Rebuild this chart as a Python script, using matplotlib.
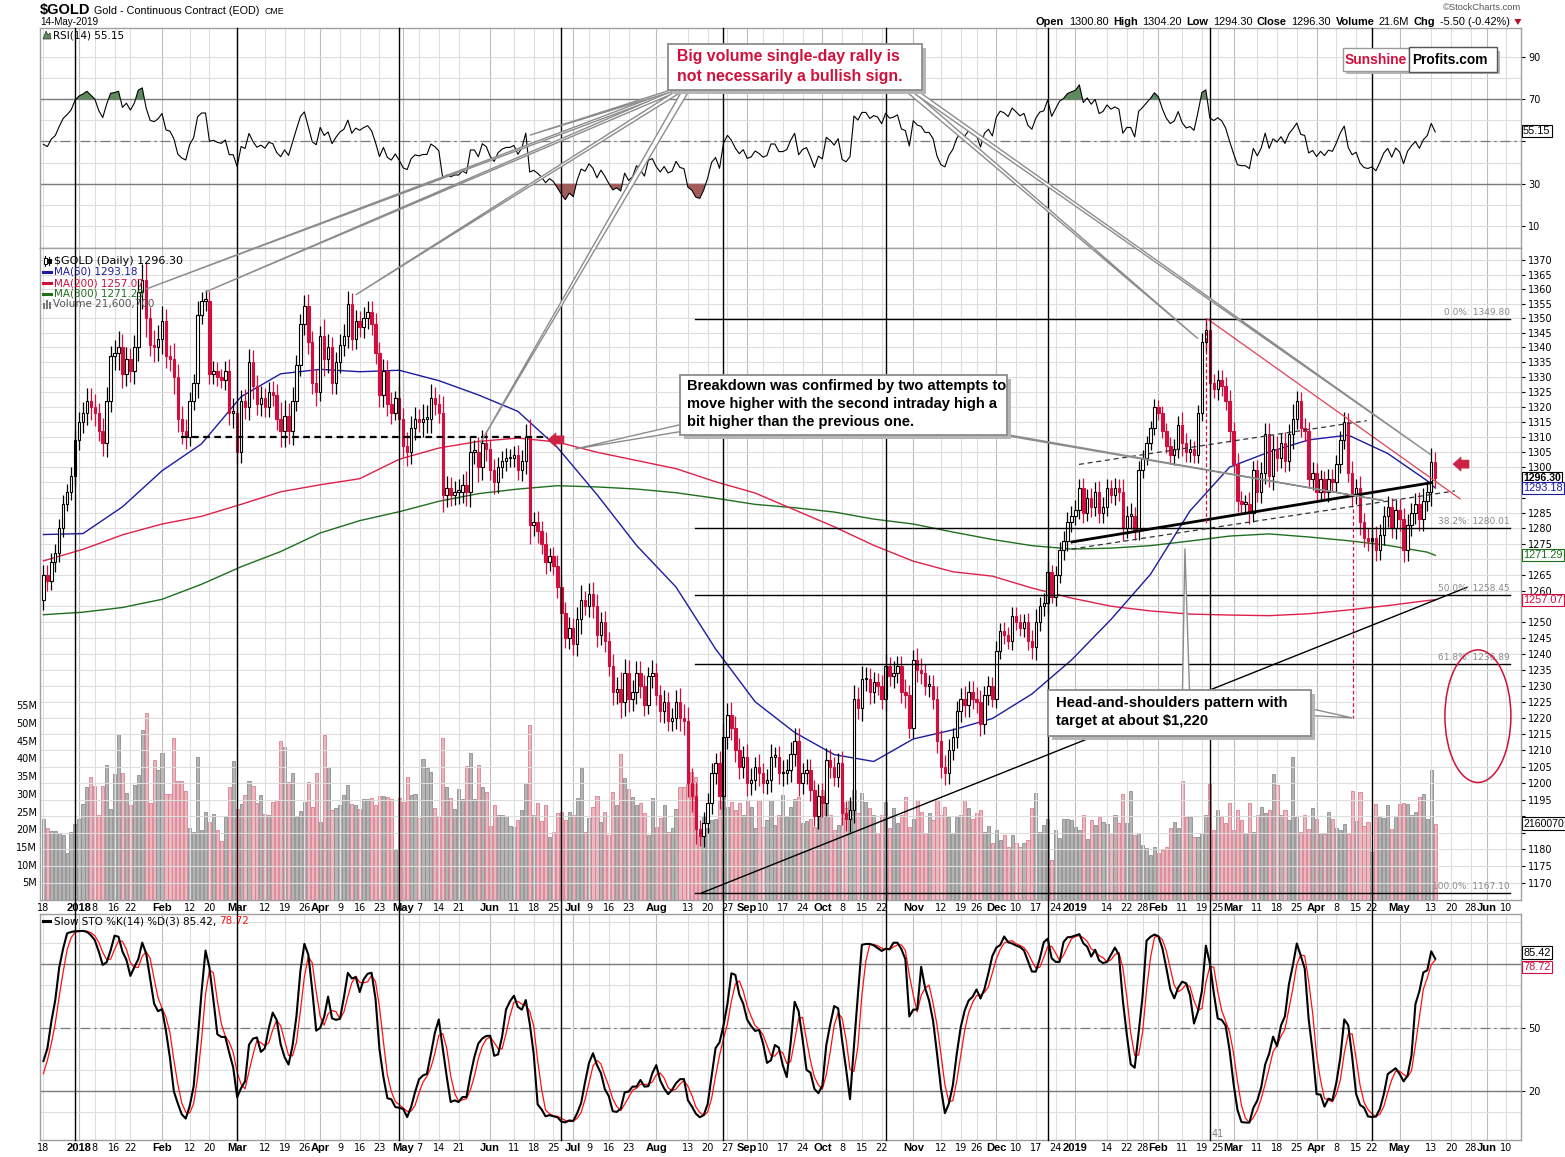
import numpy as np
import pandas as pd
import matplotlib
matplotlib.use("Agg")
import matplotlib.pyplot as plt
from matplotlib import font_manager
from matplotlib.patches import Rectangle, Polygon, Ellipse
from matplotlib.ticker import FixedLocator, NullLocator, FixedFormatter

W, H = 1565, 1157
plt.rcParams['font.family'] = ['DejaVu Sans']
try:
    font_manager.findfont('Liberation Sans Narrow', fallback_to_default=False)
    NARROW, NS = 'Liberation Sans Narrow', 1.0
except ValueError:
    NARROW, NS = 'Liberation Sans', 0.84

# ---------------- data ----------------
holidays = ['2017-12-25', '2018-01-01', '2018-01-15', '2018-02-19', '2018-03-30',
            '2018-05-28', '2018-07-04', '2018-09-03', '2018-11-22', '2018-12-25',
            '2019-01-01', '2019-01-21', '2019-02-18', '2019-04-19', '2019-05-27']

# closes before the visible range, only used to warm up RSI / STO
close_warmup = [1278, 1294, 1275, 1280, 1292, 1288, 1295, 1294, 1286, 1275, 1280,
                1277, 1266, 1266, 1253, 1248, 1247, 1243, 1257, 1257, 1257]

close_2017_12 = [1265, 1263, 1269, 1272, 1280, 1288, 1292, 1297, 1309]
close_2018_01 = [1315, 1318, 1322, 1320, 1318, 1312, 1308, 1322, 1337, 1338, 1340,
                 1331, 1336, 1332, 1340, 1359, 1363, 1350, 1341, 1340, 1343]
close_2018_02 = [1349, 1337, 1336, 1330, 1316, 1312, 1310, 1322, 1328, 1351, 1356,
                 1356, 1331, 1332, 1330, 1329, 1332, 1318, 1318]
close_2018_03 = [1305, 1322, 1320, 1335, 1327, 1321, 1323, 1320, 1325, 1324, 1316,
                 1312, 1317, 1312, 1322, 1334, 1348, 1354, 1342, 1328, 1325]
close_2018_04 = [1344, 1336, 1340, 1328, 1335, 1341, 1344, 1355, 1343, 1349, 1347,
                 1350, 1352, 1348, 1338, 1324, 1332, 1321, 1318, 1323, 1316]
close_2018_05 = [1307, 1305, 1313, 1316, 1315, 1316, 1316, 1323, 1321, 1318, 1291,
                 1293, 1291, 1292, 1292, 1294, 1292, 1305, 1305, 1300, 1308, 1306]
close_2018_06 = [1299, 1295, 1300, 1302, 1303, 1303, 1304, 1299, 1302, 1310, 1281,
                 1282, 1279, 1275, 1269, 1271, 1268, 1261, 1253, 1245, 1248]
close_2018_07 = [1243, 1251, 1257, 1255, 1259, 1255, 1246, 1250, 1244, 1236, 1228,
                 1229, 1225, 1234, 1226, 1228, 1234, 1230, 1224, 1233, 1234]
close_2018_08 = [1227, 1222, 1225, 1219, 1220, 1225, 1220, 1219, 1200, 1196, 1186,
                 1184, 1188, 1194, 1203, 1206, 1196, 1214, 1221, 1217, 1210, 1205, 1208]
close_2018_09 = [1200, 1201, 1205, 1203, 1200, 1201, 1208, 1208, 1203, 1203, 1204,
                 1209, 1213, 1200, 1203, 1204, 1198, 1190, 1196]
close_2018_10 = [1194, 1207, 1205, 1202, 1206, 1191, 1189, 1192, 1226, 1223, 1232,
                 1232, 1228, 1231, 1230, 1226, 1236, 1233, 1234, 1236, 1228, 1227, 1217]
close_2018_11 = [1238, 1235, 1234, 1230, 1230, 1226, 1213, 1205, 1203, 1210, 1214,
                 1222, 1226, 1224, 1228, 1226, 1225, 1218, 1227, 1230, 1226]
close_2018_12 = [1241, 1247, 1246, 1244, 1252, 1250, 1248, 1250, 1244, 1242, 1250,
                 1255, 1256, 1266, 1258, 1265, 1273, 1276, 1282, 1284]
close_2019_01 = [1286, 1293, 1285, 1290, 1287, 1292, 1285, 1287, 1293, 1291, 1293,
                 1292, 1280, 1284, 1284, 1279, 1299, 1303, 1308, 1313, 1320]
close_2019_02 = [1318, 1312, 1307, 1304, 1306, 1314, 1308, 1305, 1306, 1304, 1318,
                 1342, 1346, 1328, 1326, 1329, 1327, 1322, 1312]
close_2019_03 = [1301, 1289, 1288, 1288, 1285, 1299, 1292, 1298, 1311, 1297, 1306,
                 1303, 1308, 1302, 1311, 1316, 1322, 1313, 1312, 1296, 1298]
close_2019_04 = [1292, 1296, 1292, 1296, 1295, 1301, 1309, 1315, 1298, 1291, 1293,
                 1282, 1277, 1276, 1277, 1273, 1278, 1284, 1287, 1280, 1286]
close_2019_05 = [1283, 1273, 1281, 1285, 1288, 1283, 1289, 1292, 1301.8, 1296.3]

# volume, millions of contracts
vol_2017_12 = [23, 20.4, 19.6, 19.6, 18.8, 18.4, 13.2, 19.3, 21.5]
vol_2018_01 = [22.8, 27, 31.8, 34.8, 32.2, 23.9, 32.2, 38, 25.7, 35.6, 47, 35.8, 30.3,
               26.7, 32.4, 35.2, 48, 52.7, 27.5, 39.5, 36.6]
vol_2018_02 = [41.5, 30, 30, 45.7, 33.5, 33.5, 30.7, 20.2, 19.3, 40.3, 19.8, 25, 22,
               24.2, 19.9, 16.6, 23.5, 31.8, 39.4]
vol_2018_03 = [25.8, 27, 29.6, 33.5, 32.1, 27.3, 29.7, 24.4, 24, 27.8, 28.2, 44.8, 43.1,
               33.4, 35.8, 23.5, 25.1, 27.7, 33.3, 26.2, 36]
vol_2018_04 = [22, 46.5, 37.5, 25.4, 25.9, 26.7, 29.8, 32.4, 27, 26.7, 25.8, 28.4, 28.4,
               28.7, 26.8, 29.5, 29.4, 29.2, 28.4, 14.1, 28.7]
vol_2018_05 = [27.8, 34.8, 29.6, 29.9, 23.1, 39.8, 37.2, 36.2, 26.1, 23.8, 45.9, 32, 28.7,
               25.6, 31.3, 28.4, 37.9, 41.4, 28.4, 38.1, 32, 30.6]
vol_2018_06 = [20.9, 26.9, 24.1, 24.1, 23.6, 20.9, 20.7, 22.6, 25.4, 33.1, 49.4, 24.1,
               27.4, 22.3, 26.9, 17.9, 19.3, 24.5, 25, 22.6, 25]
vol_2018_07 = [24.1, 28.8, 37.3, 19.3, 23.1, 26.4, 29.4, 21.9, 25, 18.4, 30.5, 26.9,
               41.2, 34.4, 31.5, 29, 26.9, 27.5, 24.5, 18.5, 28.8]
vol_2018_08 = [20.7, 23.1, 26.9, 19.3, 20.2, 25.8, 31.8, 31.8, 32.9, 36.2, 34.8, 18.4,
               23.6, 20.2, 22.6, 22.8, 28.2, 30.1, 26.4, 27.8, 25.4, 27.5, 24]
vol_2018_09 = [28.2, 26.2, 20.2, 28.2, 20.7, 22.6, 28.2, 21.2, 24, 29.7, 23.5, 26.2,
               28.4, 29.2, 21.8, 22.4, 23, 20.7, 28.2]
vol_2018_10 = [31, 28.2, 24, 19.8, 21.2, 27.8, 25.9, 28.2, 31, 24.5, 30.3, 27.8, 25.9,
               24, 19, 24, 27.8, 20.2, 25.9, 21.7, 24, 29.2, 20.7]
vol_2018_11 = [23, 28.2, 25, 18.8, 24.5, 22.6, 28.2, 24, 26.4, 23.5, 19, 23.5, 24, 28.2,
               25.9, 23, 24.5, 25.4, 19.3, 20.9, 16]
vol_2018_12 = [19.8, 17, 18.4, 15, 18.4, 16, 15, 16, 17, 25.9, 30.1, 19.3, 21.2, 23,
               11.3, 19.8, 17.4, 23, 23, 22.6]
vol_2019_01 = [20.7, 19.8, 24, 17.1, 22.6, 21.2, 23.5, 22.1, 21.5, 18.8, 24, 21.7, 29.9,
               21.8, 30.9, 18.4, 18.8, 15.5, 14.6, 12.7, 15]
vol_2019_02 = [13.2, 14.1, 15, 20.2, 22.1, 20.2, 33.6, 23.5, 23.5, 17.9, 17.9, 18.8, 24,
               33, 19.8, 25.4, 23.5, 21.7, 27.3]
vol_2019_03 = [19.8, 25.4, 22.6, 18.8, 27.3, 19.3, 24, 26.4, 24.5, 25.4, 35.6, 32.5, 24,
               25.4, 22.6, 40.5, 23.5, 19.3, 24, 20, 26]
vol_2019_04 = [23, 19, 18.6, 25, 22.8, 20.3, 19.8, 21.5, 18.6, 30.8, 22.3, 30.5, 20.9,
               22, 13.5, 27, 23.7, 23.1, 26.8, 20, 23.7]
vol_2019_05 = [27, 27.3, 27, 24, 25, 29, 30, 23, 36.7, 21.6007]

# moving averages read every 10 trading days (last point = 14-May-2019)
ma_days = list(range(0, 351, 10)) + [352]
ma50 = [1278, 1278.3, 1287, 1298.8, 1307.7, 1323.4, 1331.1, 1332.6, 1331.8, 1332.3,
        1328.8, 1324, 1318.5, 1306.5, 1291, 1274.5, 1261.1, 1241.5, 1225, 1215.5,
        1208.7, 1206.6, 1213.5, 1216.3, 1219.8, 1227.4, 1238, 1250.8, 1265.2, 1285.7,
        1300, 1305, 1309, 1310.6, 1304.5, 1295.5, 1293.18]
ma200 = [1269.5, 1273.2, 1277.9, 1281.4, 1283.9, 1287.8, 1291.9, 1294.2, 1296.2, 1302.6,
         1306.3, 1308.5, 1309.6, 1308.3, 1304.9, 1302.2, 1299.5, 1295.2, 1291.5, 1286,
         1280.5, 1274.5, 1269.4, 1266, 1264.6, 1260.8, 1257.6, 1255, 1253.5, 1252.5,
         1252.2, 1252, 1252.6, 1253.8, 1255.2, 1256.8, 1257.07]
ma300 = [1252.3, 1253.1, 1254.6, 1257.2, 1262, 1267.6, 1272.5, 1278.5, 1282.5, 1285.4,
         1288.8, 1291.3, 1292.8, 1293.9, 1293.5, 1292.8, 1291.6, 1289.8, 1287.8, 1286.7,
         1285.3, 1283, 1281.4, 1278.8, 1276.4, 1274.4, 1273.3, 1273.6, 1274.4, 1275.9,
         1277.5, 1278.2, 1277.2, 1276, 1274.5, 1272.3, 1271.29]

fib_levels = [1349.80, 1280.01, 1258.45, 1236.89, 1167.10]
fib_names = ['0.0%', '38.2%', '50.0%', '61.8%', '100.0%']

closes = (close_2017_12 + close_2018_01 + close_2018_02 + close_2018_03 + close_2018_04
          + close_2018_05 + close_2018_06 + close_2018_07 + close_2018_08 + close_2018_09
          + close_2018_10 + close_2018_11 + close_2018_12 + close_2019_01 + close_2019_02
          + close_2019_03 + close_2019_04 + close_2019_05)
volumes = (vol_2017_12 + vol_2018_01 + vol_2018_02 + vol_2018_03 + vol_2018_04
           + vol_2018_05 + vol_2018_06 + vol_2018_07 + vol_2018_08 + vol_2018_09
           + vol_2018_10 + vol_2018_11 + vol_2018_12 + vol_2019_01 + vol_2019_02
           + vol_2019_03 + vol_2019_04 + vol_2019_05)

# ---------------- derived series ----------------
days = pd.bdate_range('2017-12-18', '2019-06-14')
days = days[~days.isin(pd.to_datetime(holidays))]
n = len(closes)
x = np.arange(n)
c = np.array(closes, float)
o = np.r_[close_warmup[-1], c[:-1]]
v = np.array(volumes, float)
up = c >= o
wick = 1.0 + 0.1 * v
hi = np.maximum(o, c) + wick
lo = np.minimum(o, c) - wick

nw = len(close_warmup)
cw = np.array(close_warmup, float)
ow = np.r_[cw[0], cw[:-1]]
allc = np.r_[cw, c]
allh = np.r_[np.maximum(ow, cw) + 3, hi]
alll = np.r_[np.minimum(ow, cw) - 3, lo]

d = np.diff(allc)
g, ls_ = np.clip(d, 0, None), np.clip(-d, 0, None)
rsi_all = np.full(len(allc), np.nan)
ag, al = g[:14].mean(), ls_[:14].mean()
rsi_all[14] = 100 - 100 / (1 + ag / al)
for k in range(14, len(d)):
    ag = (ag * 13 + g[k]) / 14
    al = (al * 13 + ls_[k]) / 14
    rsi_all[k + 1] = 100 - 100 / (1 + ag / al)
rsi = rsi_all[nw:]

hh = pd.Series(allh).rolling(14).max()
ll = pd.Series(alll).rolling(14).min()
fast_k = 100 * (pd.Series(allc) - ll) / (hh - ll)
slow_k = fast_k.rolling(3).mean()
slow_d = slow_k.rolling(3).mean()
sto_k = slow_k.values[nw:]
sto_d = slow_d.values[nw:]

# date labels (StockCharts style)
monday = days - pd.to_timedelta(days.weekday, unit='D')
month_first = [i for i in range(1, len(days)) if days[i].month != days[i - 1].month]
week_first = [0] + [i for i in range(1, len(days)) if monday[i] != monday[i - 1]]
ticks = []
for i in month_first:
    dd = days[i]
    ticks.append((i, str(dd.year) if dd.month == 1 else dd.strftime('%b'), True))


def too_close(i):
    for m in month_first:
        limit = 4 if (days[m].month == 1 and m > i) else 3
        if abs(i - m) <= limit:
            return True
    return False


for i in week_first:
    if i in month_first or too_close(i):
        continue
    ticks.append((i, str(days[i].day), False))
XL = (-0.86, 373.7)
ticks = sorted(t for t in ticks if t[0] <= XL[1] - 1)

# ---------------- colours ----------------
RED = '#d10f3f'
NAVY = '#1c1ca0'
GREEN = '#1f6f1f'
GRID = '#dedede'
MGRID = '#bdbdbd'
LVL = '#7a7a7a'
TAGFONT = 'Liberation Sans'

# ---------------- figure ----------------
fig = plt.figure(figsize=(W / 100, H / 100), dpi=100)
L, R = 40, 1521


def rect(top, bottom):
    return [L / W, 1 - bottom / H, (R - L) / W, (bottom - top) / H]


ax_r = fig.add_axes(rect(28, 248))
ax_v = fig.add_axes(rect(248, 900), zorder=1)
ax_p = fig.add_axes(rect(248, 900), zorder=2)
ax_p.patch.set_visible(False)
ax_s = fig.add_axes(rect(914, 1140))

for ax in (ax_r, ax_v, ax_p, ax_s):
    ax.set_xlim(*XL)
    for sp in ax.spines.values():
        sp.set_color('#a0a0a0')
        sp.set_linewidth(1)
for sp in ax_v.spines.values():
    sp.set_visible(False)

for i, _, major in ticks:
    for ax in (ax_r, ax_p, ax_s):
        ax.axvline(i, color=MGRID if major else GRID, lw=0.8, zorder=0)

# ---- RSI ----
ax_r.set_ylim(-0.4, 103.7)
for t in range(10, 100, 10):
    ax_r.axhline(t, color=GRID, lw=0.8, zorder=0)
ax_r.axhline(70, color=LVL, lw=1.0, zorder=1)
ax_r.axhline(30, color=LVL, lw=1.0, zorder=1)
ax_r.axhline(50, color=LVL, lw=0.9, ls=(0, (8, 3, 2, 3)), zorder=1)
ax_r.fill_between(x, rsi, 70, where=rsi > 70, interpolate=True, color='#5e8a5e', lw=0, zorder=2)
ax_r.fill_between(x, rsi, 30, where=rsi < 30, interpolate=True, color='#a25c5c', lw=0, zorder=2)
ax_r.plot(x, rsi, color='black', lw=0.8, zorder=3)
ax_r.yaxis.tick_right()
ax_r.set_yticks([10, 30, 50, 70, 90])
ax_r.set_yticklabels(['10', '30', '', '70', '90'])
ax_r.set_xticks([])
ax_r.tick_params(axis='y', labelsize=7, length=3, pad=2)

# ---- volume ----
ax_v.set_ylim(0, 184.2)
vc = np.where(up, '#b4b4b4', '#ebb8c0')
ve = np.where(up, '#8e8e8e', '#d98090')
ax_v.bar(x, v, width=0.8, color=vc, edgecolor=ve, lw=0.6)
ax_v.set_yticks(range(5, 56, 5))
ax_v.set_yticklabels([f'{t}M' for t in range(5, 56, 5)], fontsize=7)
ax_v.tick_params(axis='y', length=0, pad=2)
ax_v.set_xticks([])

# ---- price ----
ax_p.set_yscale('log')
ax_p.set_ylim(1165.0, 1374.2)
pt = list(range(1170, 1371, 5))
hidden = {1185, 1190, 1290, 1295, 1255, 1270}
ax_p.yaxis.set_major_locator(FixedLocator(pt))
ax_p.yaxis.set_major_formatter(FixedFormatter(['' if t in hidden else str(t) for t in pt]))
ax_p.yaxis.set_minor_locator(NullLocator())
ax_p.yaxis.tick_right()
ax_p.tick_params(axis='y', labelsize=7, length=3, pad=2)
for t in pt:
    ax_p.axhline(t, color=GRID, lw=0.8, zorder=0)

ax_p.plot(ma_days, ma300, color=GREEN, lw=1.0, zorder=2)
ax_p.plot(ma_days, ma200, color='#e0204a', lw=1.0, zorder=2)
ax_p.plot(ma_days, ma50, color=NAVY, lw=1.0, zorder=2)

ccol = np.where(up, 'black', RED)
ax_p.vlines(x, lo, hi, colors=ccol, lw=0.9, zorder=3)
bh = np.maximum(np.abs(c - o), 0.5)
bb = np.minimum(o, c)
ax_p.bar(x[up], bh[up], bottom=bb[up], width=0.62, facecolor='white',
         edgecolor='black', lw=0.8, zorder=4)
ax_p.bar(x[~up], bh[~up], bottom=bb[~up], width=0.62, facecolor=RED,
         edgecolor=RED, lw=0.8, zorder=4)

# analyst's drawings (trading-day index, price)
for lvl in fib_levels:
    ax_p.plot([164.8, 370.9], [lvl, lvl], color='black', lw=1.0, zorder=5)
ax_p.plot([34.8, 127.6], [1310, 1310], color='black', lw=1.6, ls=(0, (3, 2)), zorder=5)
ax_p.plot([166.5, 360], [1167.1, 1261], color='black', lw=1.0, zorder=5)
ax_p.plot([260.1, 351.1], [1275.6, 1294.9], color='black', lw=2.0, zorder=5)
ax_p.plot([261.9, 334.7], [1300.9, 1315.4], color='#333333', lw=0.9, ls=(0, (4, 3)), zorder=5)
ax_p.plot([260.1, 357], [1273.3, 1292.2], color='#333333', lw=0.9, ls=(0, (4, 3)), zorder=5)
ax_p.plot([294.3, 358.3], [1349.8, 1289.6], color='#e0405a', lw=0.9, zorder=5)
ax_p.plot([294, 294], [1349.8, 1281.6], color=RED, lw=0.9, ls=(0, (3, 2)), zorder=5)
ax_p.plot([331.2, 331.2], [1286.4, 1220], color=RED, lw=0.9, ls=(0, (3, 2)), zorder=5)

ax_p.set_xticks([t[0] for t in ticks])
ax_p.set_xticklabels([t[1] for t in ticks], fontsize=7)

# ---- slow stochastic ----
ax_s.set_ylim(-3.1, 103.6)
for t in range(10, 101, 10):
    ax_s.axhline(t, color=GRID, lw=0.8, zorder=0)
ax_s.axhline(80, color=LVL, lw=1.0, zorder=1)
ax_s.axhline(20, color=LVL, lw=1.0, zorder=1)
ax_s.axhline(50, color=LVL, lw=0.9, ls=(0, (8, 3, 2, 3)), zorder=1)
ax_s.plot(x, sto_d, color='#ff1010', lw=0.9, zorder=3)
ax_s.plot(x, sto_k, color='black', lw=1.5, zorder=4)
ax_s.yaxis.tick_right()
ax_s.set_yticks([20, 50, 80])
ax_s.set_yticklabels(['20', '50', ''])
ax_s.tick_params(axis='y', labelsize=7, length=3, pad=2)
ax_s.set_xticks([t[0] for t in ticks])
ax_s.set_xticklabels([t[1] for t in ticks], fontsize=7)

for ax in (ax_p, ax_s):
    ax.tick_params(axis='x', length=0, pad=2)
    for lab, t in zip(ax.get_xticklabels(), ticks):
        if t[2]:
            lab.set_fontweight('bold')
            lab.set_fontfamily(NARROW)
            lab.set_fontsize(9.5 * NS)


# ---- right-hand value tags ----
def tag(ax, val, text, color, bold=False, size=7.9):
    ax.annotate(text, xy=(1, val), xycoords=('axes fraction', 'data'), xytext=(1.5, 0),
                textcoords='offset points', va='center', ha='left', fontsize=size,
                family=TAGFONT, color=color, fontweight='bold' if bold else 'normal',
                bbox=dict(boxstyle='square,pad=0.1', fc='white', ec=color, lw=0.8),
                annotation_clip=False, zorder=20)


tag(ax_r, 55.15, '55.15', 'black')
tag(ax_p, 1296.30, '1296.30', 'black', bold=True, size=7.6)
tag(ax_p, 1293.18, '1293.18', NAVY)
tag(ax_p, 1271.29, '1271.29', GREEN)
tag(ax_p, 1257.07, '1257.07', RED)
tag(ax_v, 21.6007, '2160070', 'black', size=7.6)
tag(ax_s, 85.42, '85.42', 'black')
tag(ax_s, 78.72, '78.72', RED)

# ---------------- overlay in pixel coordinates ----------------
ax_o = fig.add_axes([0, 0, 1, 1], zorder=10)
ax_o.set_xlim(0, W)
ax_o.set_ylim(H, 0)
ax_o.axis('off')
ax_o.patch.set_visible(False)


def px(ax, xv, yv):
    X, Y = ax.transData.transform((xv, yv))
    return X, H - Y


def otext(xp, yp, s, size=7, color='black', weight='normal', family=None, ha='left', va='center', z=6):
    kw = {'family': family} if family else {}
    return ax_o.text(xp, yp, s, fontsize=size, color=color, fontweight=weight,
                     ha=ha, va=va, zorder=z, **kw)


renderer = fig.canvas.get_renderer()


def seq_text(x0, y0, parts, size, family=None, gap=3):
    xc = x0
    for s, col, wt in parts:
        t = otext(xc, y0, s, size=size, color=col, weight=wt, family=family)
        xc += t.get_window_extent(renderer).width + gap
    return xc


# cycle lines every 41 trading days
for k in range(9):
    xp, _ = px(ax_p, 8 + 41 * k, 1300)
    ax_o.plot([xp, xp], [28, 1140], color='black', lw=1.0, zorder=0.5)
xp, _ = px(ax_s, 8 + 41 * 7, 50)
otext(xp + 2, 1134, '41', size=7, color='#808080')

# fib labels
for lvl, name in zip(fib_levels, fib_names):
    xr, yr = px(ax_p, 370.9, lvl)
    otext(xr, yr - 6.5, f'{name}: {lvl:.2f}', size=6.5, color='#8a8a8a', ha='right', z=2)

# red arrows
for (ai, ap) in [(127.6, 1309), (356.5, 1301)]:
    tx, ty = px(ax_p, ai, ap)
    pts = [(tx, ty), (tx + 8, ty - 7), (tx + 8, ty - 4), (tx + 16, ty - 4),
           (tx + 16, ty + 4), (tx + 8, ty + 4), (tx + 8, ty + 7)]
    ax_o.add_patch(Polygon(pts, closed=True, fc='#cc2244', ec='#cc2244', lw=0.5, zorder=2))

# red ellipse around target zone
ex, ey_top = px(ax_p, 362.8, 1241.2)
_, ey_bot = px(ax_p, 362.8, 1200.2)
ax_o.add_patch(Ellipse((ex, (ey_top + ey_bot) / 2), 66, ey_bot - ey_top, fc='none',
                       ec='#d0103a', lw=1.1, zorder=2))


def callout(base, tip, hw=3.5, vertical=False):
    bx, by = base
    pts = [(bx, by - hw), tip, (bx, by + hw)] if vertical else [(bx - hw, by), tip, (bx + hw, by)]
    ax_o.add_patch(Polygon(pts, closed=True, fc='white', ec='#8c8c8c', lw=1.0, zorder=3))


def note_box(x0, y0, x1, y1):
    ax_o.add_patch(Rectangle((x0 + 4, y0 + 4), x1 - x0, y1 - y0, fc='#b5b5b5', ec='none', zorder=4))
    ax_o.add_patch(Rectangle((x0, y0), x1 - x0, y1 - y0, fc='white', ec='#8c8c8c', lw=1.3, zorder=4.5))


# box 1
for (bi, bp), base in [((26, 1360), (676, 90)), ((41, 1359), (678, 90)),
                       ((79, 1358), (681, 90)), ((110.5, 1308), (686, 90)),
                       ((292, 1343), (908, 90)), ((351, 1304), (913, 90))]:
    callout(base, px(ax_p, bi, bp))
callout((674, 90), px(ax_r, 123, 53))
note_box(668, 44, 922, 90)
otext(677, 57, 'Big volume single-day rally is', size=13.6 * NS, color='#d0103a', weight='bold', family=NARROW)
otext(677, 76, 'not necessarily a bullish sign.', size=13.6 * NS, color='#d0103a', weight='bold', family=NARROW)

# box 2
callout((681, 428), px(ax_p, 134.5, 1306), vertical=True)
callout((1000, 434), px(ax_p, 339, 1289))
note_box(680, 375, 1007, 435)
for yy, s in [(386, 'Breakdown was confirmed by two attempts to'),
              (404, 'move higher with the second intraday high a'),
              (422, 'bit higher than the previous one.')]:
    otext(687, yy, s, size=12.5 * NS, weight='bold', family=NARROW)

# box 3
callout((1186, 691), px(ax_p, 288.7, 1273.5))
callout((1310, 712), px(ax_p, 331, 1220), vertical=True)
note_box(1048, 690, 1311, 736)
otext(1056, 703, 'Head-and-shoulders pattern with', size=12.8 * NS, weight='bold', family=NARROW)
otext(1056, 721, 'target at about $1,220', size=12.8 * NS, weight='bold', family=NARROW)

# logo
ax_o.add_patch(Rectangle((1346, 51), 154, 23, fc='#b5b5b5', ec='none', zorder=4))
ax_o.add_patch(Rectangle((1343, 48), 66, 23, fc='white', ec='#9a9a9a', lw=1.0, zorder=4.5))
ax_o.add_patch(Rectangle((1409, 47), 88, 25, fc='white', ec='#555555', lw=1.0, zorder=4.6))
otext(1345, 59.5, 'Sunshine', size=11.8 * NS, color='#d0103a', weight='bold', family=NARROW)
otext(1412, 59.5, 'Profits.com', size=11.8 * NS, color='black', weight='bold', family=NARROW)

# header
xe = seq_text(40, 10, [('$GOLD', 'black', 'bold')], size=12.5 * NS, family=NARROW, gap=4)
xe = seq_text(xe, 10.5, [('Gold - Continuous Contract (EOD)', 'black', 'normal')],
              size=9.2 * NS, family=NARROW, gap=5)
otext(xe, 11, 'CME', size=7.5 * NS, family=NARROW)
otext(40, 22, '14-May-2019', size=8.5 * NS, family=NARROW)
otext(1521, 8, '\u00a9StockCharts.com', size=8 * NS, color='#555555', ha='right', family=NARROW)
xe = seq_text(1036, 22, [('Open', 'black', 'bold'), ('1300.80', 'black', 'normal'),
                         ('High', 'black', 'bold'), ('1304.20', 'black', 'normal'),
                         ('Low', 'black', 'bold'), ('1294.30', 'black', 'normal'),
                         ('Close', 'black', 'bold'), ('1296.30', 'black', 'normal'),
                         ('Volume', 'black', 'bold'), ('21.6M', 'black', 'normal'),
                         ('Chg', 'black', 'bold'), ('-5.50 (-0.42%)', 'black', 'normal')],
              size=9.4 * NS, family=NARROW, gap=4.5)
ax_o.add_patch(Polygon([(xe, 19), (xe + 7, 19), (xe + 3.5, 25)], closed=True,
                       fc='#b0102a', ec='none', zorder=6))

# RSI label
ax_o.add_patch(Polygon([(43, 39), (46, 31), (48, 35), (50, 33), (51, 39)], closed=True,
                       fc='#5e8a5e', ec='#333333', lw=0.5, zorder=6))
otext(53, 35, 'RSI(14) 55.15', size=7.5)

# price legend
ax_o.plot([45, 45], [256, 266], color='black', lw=0.8, zorder=6)
ax_o.add_patch(Rectangle((43.5, 258), 3, 6, fc='white', ec='black', lw=0.7, zorder=6.5))
ax_o.plot([49, 49], [257, 265], color='black', lw=0.8, zorder=6)
ax_o.add_patch(Rectangle((47.5, 259), 3, 4, fc='black', ec='black', lw=0.7, zorder=6.5))
otext(54, 261, '$GOLD (Daily) 1296.30', size=8)
for yy, col, s in [(272, NAVY, 'MA(50) 1293.18'), (283, RED, 'MA(200) 1257.07'),
                   (294, GREEN, 'MA(300) 1271.29')]:
    ax_o.plot([43, 51], [yy, yy], color=col, lw=2.2, zorder=6)
    otext(54, yy, s, size=7.5, color=col)
for bx_, bh_ in [(43, 6), (46, 9), (49, 7)]:
    ax_o.add_patch(Rectangle((bx_, 309 - bh_), 2.4, bh_, fc='#777777', ec='none', zorder=6))
otext(53, 304.5, 'Volume 21,600,700', size=7.5, color='#555555')

# STO label
ax_o.plot([43, 50], [921, 921], color='black', lw=2.2, zorder=6)
xe = seq_text(54, 921, [('Slow STO %K(14) %D(3) 85.42,', 'black', 'normal')], size=7.5, gap=3)
otext(xe, 921, '78.72', size=7.5, color='#ff1010')

fig.savefig('out.png', dpi=100, facecolor='white')
